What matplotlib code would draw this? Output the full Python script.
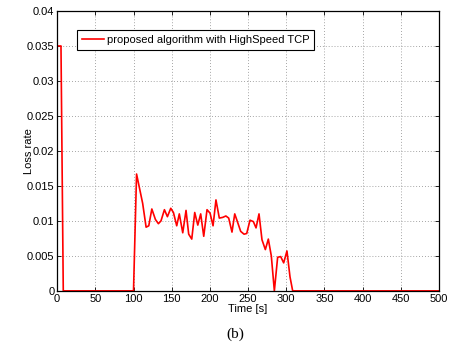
import matplotlib.pyplot as plt

# values
tiempo = [0, 5, 8, 100, 104, 112, 116.5, 120, 124, 128.7, 132.6, 136, 140.5, 144.4,
          148.8, 152.3, 156.6, 160, 164.5, 168.8, 172.3, 176.3, 180.2, 184.2, 188,
          192, 196.3, 200.3, 204.2, 208, 212.4, 216.8, 221, 224.7, 229, 232.6, 237,
          240.4, 244.8, 248.3, 252.6, 257, 260.5, 264.4, 268.3, 272.7, 276.6, 280.5,
          284.5, 288.8, 292.8, 296.7, 301, 305, 308.5, 500]
perda = [0.035, 0.035, 0, 0, 0.0167, 0.0125, 0.0091, 0.0093, 0.0117, 0.0102, 0.0096,
         0.0100, 0.0116, 0.0106, 0.0118, 0.0112, 0.0093, 0.0110, 0.0083, 0.0115,
         0.0081, 0.0074, 0.0112, 0.0094, 0.0110, 0.0078, 0.0116, 0.0111, 0.0093,
         0.0130, 0.0104, 0.0105, 0.0107, 0.0104, 0.0084, 0.0110, 0.0096, 0.0085,
         0.0081, 0.0082, 0.0101, 0.0099, 0.0090, 0.0110, 0.0073, 0.0059, 0.0074,
         0.0050, 0, 0.0048, 0.0049, 0.0040, 0.0057, 0.0020, 0, 0]

xticks = list(range(0, 501, 50))
yticks = [0, 0.005, 0.01, 0.015, 0.02, 0.025, 0.03, 0.035, 0.04]
ylabels = ["0", "0.005", "0.01", "0.015", "0.02", "0.025", "0.03", "0.035", "0.04"]

plt.rcParams['font.family'] = ['Liberation Sans', 'DejaVu Sans']
plt.rcParams['font.size'] = 8

fig = plt.figure(figsize=(4.61, 3.43), dpi=100)
ax = fig.add_axes([0.124, 0.152, 0.828, 0.816])
ax.plot(tiempo, perda, color='#ff0000', linewidth=1.2,
        label='proposed algorithm with HighSpeed TCP')

ax.set_xlim(0, 500)
ax.set_ylim(0, 0.04)
ax.set_xticks(xticks)
ax.set_yticks(yticks)
ax.set_yticklabels(ylabels)
ax.tick_params(direction='in', length=3, width=0.6, pad=2, top=True, right=True)
ax.grid(True, linestyle=(0, (1, 2.5)), color='#888888', linewidth=0.6)
for s in ax.spines.values():
    s.set_linewidth(0.9)

ax.set_xlabel('Time [s]', labelpad=0)
ax.set_ylabel('Loss rate', labelpad=-5)

leg = ax.legend(loc='upper left', bbox_to_anchor=(0.053, 0.932), borderaxespad=0,
                fancybox=False, framealpha=1, edgecolor='black',
                handlelength=1.95, handletextpad=0.25, borderpad=0.45, fontsize=8)
leg.get_frame().set_linewidth(0.8)

fig.text(0.51, 0.015, '(b)', family='Liberation Serif', fontsize=11,
         ha='center', va='baseline')

plt.savefig('out.png', dpi=100)
